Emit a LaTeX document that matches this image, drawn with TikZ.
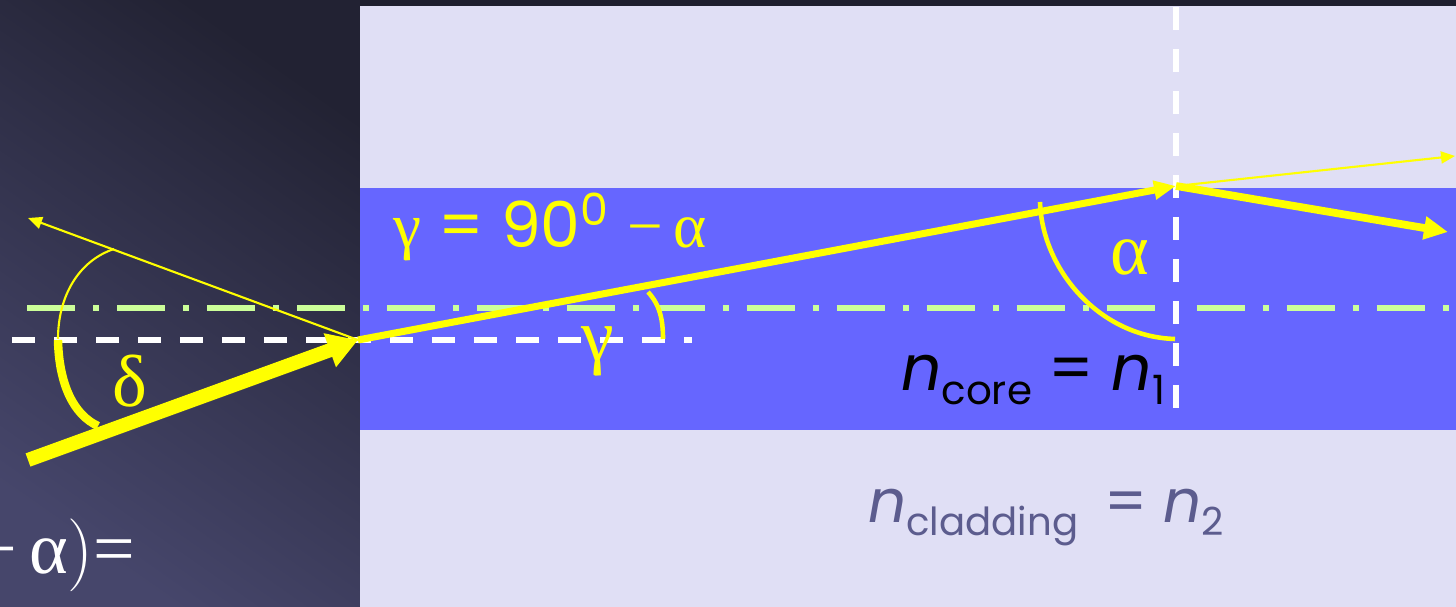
\documentclass[tikz,border=0pt]{standalone}
\usepackage{fontspec}
\setmainfont{Poppins}
\newfontfamily\greekfont{Liberation Serif}
\usetikzlibrary{arrows.meta}
\definecolor{bgdark}{HTML}{1F1F2E}
\definecolor{bglight}{HTML}{46466B}
\definecolor{cladding}{HTML}{E0DFF5}
\definecolor{corefill}{HTML}{6666FF}
\definecolor{axisgreen}{HTML}{CCFF99}
\definecolor{cladtext}{HTML}{5C5C8E}
\definecolor{rayyellow}{HTML}{FFFF00}
\begin{document}
\begin{tikzpicture}[every node/.style={inner sep=0pt},
    greek/.style={text=rayyellow, font=\greekfont\fontsize{21}{25}\selectfont},
    whitedash/.style={white, line width=1.7pt, dash pattern=on 0.23cm off 0.19cm},
    thinray/.style={rayyellow, line width=0.6pt, -{Triangle[length=0.14cm,width=0.12cm]}}]
    \clip (0,0) rectangle (14.56,6.07);

    % Hintergrund und Faser
    \fill[bgdark] (0,0) rectangle (14.56,6.07);
    \fill[top color=bgdark!92!bglight, bottom color=bglight, shading angle=-35] (0,0) rectangle (3.60,6.07);
    \fill[cladding] (3.60,0) rectangle (14.56,6.01);
    \fill[corefill] (3.60,1.77) rectangle (14.56,4.19);

    % Achse und Lote
    \draw[axisgreen, line width=1.7pt, dash pattern=on 0.48cm off 0.18cm on 0.06cm off 0.18cm] (0.27,2.99) -- (14.56,2.99);
    \draw[whitedash] (0.12,2.67) -- (6.92,2.67);
    \draw[whitedash] (11.76,6.00) -- (11.76,1.97);

    % Strahlen
    \coordinate (src) at (0.28,1.47);
    \coordinate (hit) at (3.58,2.67);
    \coordinate (back) at (0.28,3.89);
    \coordinate (top) at (11.76,4.21);
    \coordinate (down) at (14.48,3.75);
    \coordinate (out) at (14.55,4.51);
    \draw[rayyellow, line width=4pt, -{Triangle[length=0.3cm,width=0.34cm]}] (src) -- (hit);
    \draw[thinray] (hit) -- (back);
    \draw[rayyellow, line width=2pt, -{Triangle[length=0.22cm,width=0.18cm]}] (hit) -- (top);
    \draw[rayyellow, line width=2.2pt, -{Triangle[length=0.24cm,width=0.22cm]}] (top) -- (down);
    \draw[thinray] (top) -- (out);

    % Winkel
    \draw[rayyellow, line width=0.6pt] (1.14,3.58) .. controls (0.78,3.46) and (0.58,3.10) .. (0.58,2.68);
    \draw[rayyellow, line width=2.4pt] (0.58,2.67) .. controls (0.59,2.22) and (0.74,1.92) .. (0.98,1.81);
    \draw[rayyellow, line width=1.3pt] (10.40,4.05) .. controls (10.42,3.37) and (11.00,2.70) .. (11.75,2.68);
    \draw[rayyellow, line width=1.3pt] (6.48,3.15) .. controls (6.60,3.02) and (6.63,2.87) .. (6.63,2.68);

    % Beschriftung
    \node[greek] (delta) at (1.30,2.26) {δ};
    \node[greek] (gamma) at (5.98,2.56) {γ};
    \node[greek] (alpha) at (11.30,3.50) {α};
    \node[text=rayyellow, font=\fontsize{18}{22}\selectfont] (rel) at (5.50,3.80)
        {{\greekfont γ} = 90\textsuperscript{0} {\greekfont −\,α}};
    \node[font=\fontsize{18}{22}\selectfont] (ncore) at (10.33,2.27)
        {\textit{n}\raisebox{-0.4ex}{\fontsize{11.5}{14}\selectfont core} = \textit{n}\raisebox{-0.4ex}{\fontsize{11.5}{14}\selectfont 1}};
    \node[text=cladtext, font=\fontsize{17}{21}\selectfont] (nclad) at (10.46,0.89)
        {\textit{n}\raisebox{-0.4ex}{\fontsize{11}{14}\selectfont cladding}\, = \textit{n}\raisebox{-0.4ex}{\fontsize{11}{14}\selectfont 2}};
    \node[text=white, font=\greekfont\fontsize{21}{25}\selectfont, anchor=east] (tail) at (1.36,0.52)
        {−\,α$\Big)$=};
\end{tikzpicture}
\end{document}
